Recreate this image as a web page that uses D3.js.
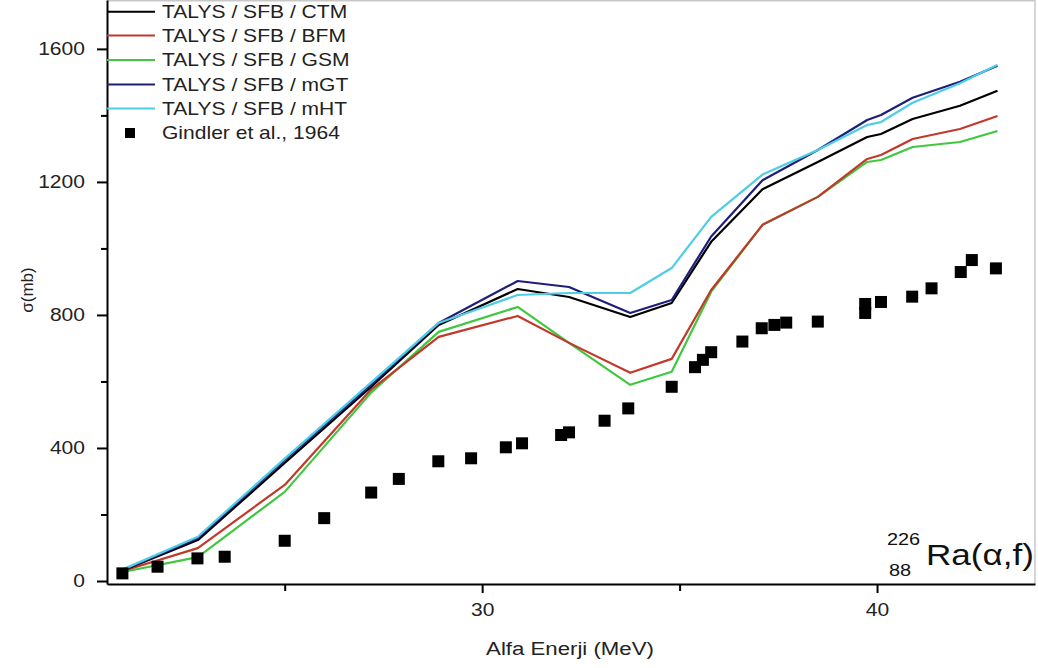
<!DOCTYPE html>
<html>
<head>
<meta charset="utf-8">
<script src="https://cdn.jsdelivr.net/npm/d3@7"></script>
<style>
  html, body { margin: 0; padding: 0; background: #fff; }
  svg { display: block; font-family: Arial, "Liberation Sans", sans-serif; }
</style>
</head>
<body>
<svg id="chart" width="1038" height="668"></svg>
<script>
// Alpha energies (MeV) at which the TALYS curves are evaluated
const calcEnergy = [20.9, 22.8, 25.0, 27.2, 28.9, 30.9, 32.2, 33.75, 34.8, 35.8, 37.1, 38.5, 39.75, 40.1, 40.9, 42.1, 43.05];

// TALYS / SFB fission cross sections (mb) for each level-density model
const ctm = [32, 123, 355, 585, 770, 878, 854, 794, 836, 1020, 1178, 1260, 1335, 1344, 1389, 1429, 1474];
const bfm = [30, 99, 289, 577, 734, 797, 716, 626, 668, 875, 1071, 1155, 1269, 1281, 1329, 1359, 1398];
const gsm = [27, 72, 268, 568, 749, 824, 716, 590, 629, 870, 1071, 1155, 1260, 1266, 1305, 1320, 1353];
const mgt = [33, 129, 364, 592, 776, 902, 884, 806, 845, 1036, 1205, 1296, 1386, 1401, 1453, 1501, 1549];
const mht = [35, 133, 368, 598, 776, 860, 866, 866, 941, 1095, 1222, 1296, 1371, 1380, 1438, 1497, 1552];

// Gindler et al., 1964 measurements
const expEnergy = [20.89, 21.78, 22.79, 23.48, 25.0, 26.0, 27.19, 27.89, 28.89, 29.72, 30.6, 31.01, 32.0, 32.2,
                   33.1, 33.7, 34.8, 35.39, 35.59, 35.8, 36.59, 37.08, 37.4, 37.7, 38.5, 39.7, 39.7, 40.1,
                   40.89, 41.38, 42.12, 42.4, 43.01];
const expSigma  = [23, 43, 68, 73, 121, 189, 266, 307, 360, 369, 402, 414, 439, 447,
                   482, 519, 584, 643, 665, 688, 720, 760, 770, 777, 780, 806, 833, 839,
                   855, 880, 929, 965, 940];

const yMajorTicks = [0, 400, 800, 1200, 1600];
const yMinorTicks = [200, 600, 1000, 1400];
const xMajorTicks = [30, 40];
const xMinorTicks = [25, 35];

const seriesNames = ["TALYS / SFB / CTM", "TALYS / SFB / BFM", "TALYS / SFB / GSM", "TALYS / SFB / mGT", "TALYS / SFB / mHT"];
const seriesColors = ["#000000", "#c0392b", "#3fc83f", "#1f1f7a", "#4fcde6"];
const seriesValues = [ctm, bfm, gsm, mgt, mht];
const expLabel = "Gindler et al., 1964";

const svg = d3.select("#chart");
const plotLeft = 107, plotRight = 1035, plotTop = 0, plotBottom = 584;
const SX = 1.17; // horizontal text stretch

const x = d3.scaleLinear().domain([20.5, 44]).range([plotLeft, plotRight]);
const y = d3.scaleLinear().domain([-9, 1747]).range([plotBottom, plotTop]);

// light frame on top and right
svg.append("path")
  .attr("d", `M${plotLeft},${plotTop + 0.75}H${plotRight}V${plotBottom}`)
  .attr("fill", "none").attr("stroke", "#c8c8c8").attr("stroke-width", 1.5);

// model curves (drawn back to front)
const drawOrder = [2, 1, 0, 3, 4];
const line = d3.line().x(d => x(d[0])).y(d => y(d[1]));
drawOrder.forEach(i => {
  svg.append("path")
    .datum(calcEnergy.map((e, k) => [e, seriesValues[i][k]]))
    .attr("d", line)
    .attr("fill", "none")
    .attr("stroke", seriesColors[i])
    .attr("stroke-width", 2.2)
    .attr("stroke-linejoin", "round");
});

// experimental points
const sq = 12;
svg.append("g").selectAll("rect")
  .data(expEnergy.map((e, k) => [e, expSigma[k]]))
  .join("rect")
  .attr("x", d => x(d[0]) - sq / 2)
  .attr("y", d => y(d[1]) - sq / 2)
  .attr("width", sq).attr("height", sq)
  .attr("fill", "#000");

// axes
function styleAxis(g) {
  g.select(".domain").attr("stroke", "#000").attr("stroke-width", 2);
  g.selectAll(".tick line").attr("stroke", "#000").attr("stroke-width", 2);
  g.selectAll(".tick text").attr("fill", "#222").attr("font-size", 18);
}

const yAxis = svg.append("g").attr("transform", `translate(${plotLeft},0)`)
  .call(d3.axisLeft(y).tickValues(yMajorTicks).tickSize(10).tickSizeOuter(0).tickFormat(d3.format("d")));
styleAxis(yAxis);
yAxis.selectAll(".tick text").attr("x", 0).attr("text-anchor", "end")
  .attr("transform", `translate(-22,0) scale(${SX},1)`);

const yMinor = svg.append("g").attr("transform", `translate(${plotLeft},0)`)
  .call(d3.axisLeft(y).tickValues(yMinorTicks).tickSize(6).tickSizeOuter(0).tickFormat(""));
yMinor.select(".domain").remove();
yMinor.selectAll(".tick line").attr("stroke", "#000").attr("stroke-width", 2);

const xAxis = svg.append("g").attr("transform", `translate(0,${plotBottom})`)
  .call(d3.axisBottom(x).tickValues(xMajorTicks).tickSize(9).tickSizeOuter(0).tickPadding(10));
styleAxis(xAxis);
xAxis.selectAll(".tick text").attr("transform", `scale(${SX},1)`);

const xMinor = svg.append("g").attr("transform", `translate(0,${plotBottom})`)
  .call(d3.axisBottom(x).tickValues(xMinorTicks).tickSize(7).tickSizeOuter(0).tickFormat(""));
xMinor.select(".domain").remove();
xMinor.selectAll(".tick line").attr("stroke", "#000").attr("stroke-width", 2);

// axis titles
svg.append("text")
  .attr("transform", `translate(570,655) scale(${SX},1)`)
  .attr("text-anchor", "middle").attr("font-size", 19).attr("fill", "#222")
  .text("Alfa Enerji (MeV)");

svg.append("text")
  .attr("transform", `translate(33,290) rotate(-90)`)
  .attr("text-anchor", "middle").attr("font-size", 17).attr("fill", "#222")
  .text("σ(mb)");

// reaction label
const rl = svg.append("g");
rl.append("text").attr("transform", `translate(887,545) scale(${SX},1)`)
  .attr("font-size", 17).attr("fill", "#111").text("226");
rl.append("text").attr("transform", `translate(889,576) scale(${SX},1)`)
  .attr("font-size", 17).attr("fill", "#111").text("88");
rl.append("text").attr("transform", `translate(926,565) scale(${SX},1)`)
  .attr("font-size", 30).attr("fill", "#111").text("Ra(α,f)");

// legend
const legendRows = [11.7, 35.5, 60, 84.5, 108.5];
const legend = svg.append("g");
seriesNames.forEach((name, i) => {
  legend.append("line")
    .attr("x1", 107).attr("x2", 155)
    .attr("y1", legendRows[i]).attr("y2", legendRows[i])
    .attr("stroke", seriesColors[i]).attr("stroke-width", 2);
  legend.append("text")
    .attr("transform", `translate(162,${legendRows[i]}) scale(${SX},1)`)
    .attr("dy", "0.35em").attr("font-size", 18).attr("fill", "#222")
    .text(name);
});
legend.append("rect").attr("x", 125).attr("y", 128).attr("width", 10).attr("height", 10).attr("fill", "#000");
legend.append("text")
  .attr("transform", `translate(162,133) scale(${SX},1)`)
  .attr("dy", "0.35em").attr("font-size", 18).attr("fill", "#222")
  .text(expLabel);
</script>
</body>
</html>
